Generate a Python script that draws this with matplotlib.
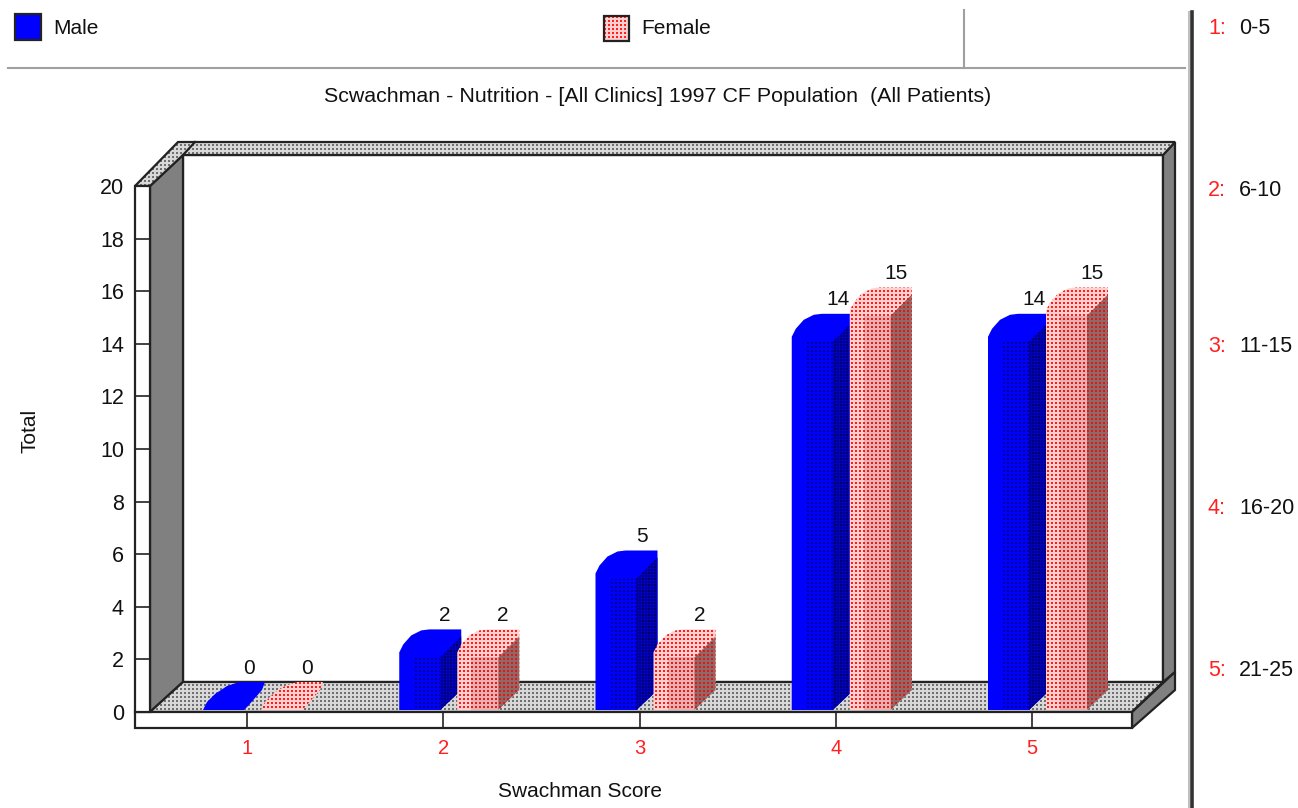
import numpy as np
import matplotlib
matplotlib.use('Agg')
import matplotlib.pyplot as plt
from matplotlib.patches import Polygon

plt.rcParams['font.family'] = ['Liberation Sans', 'DejaVu Sans']

# Data
categories = [1, 2, 3, 4, 5]
male = [0, 2, 5, 14, 14]
female = [0, 2, 2, 15, 15]
y_ticks = list(range(0, 21, 2))
range_nums = ['1:', '2:', '3:', '4:', '5:']
range_labels = ['0-5', '6-10', '11-15', '16-20', '21-25']

W, H = 1298, 808
fig = plt.figure(figsize=(W / 100, H / 100), dpi=100, facecolor='white')

# pixel layer for the surrounding frame
px = fig.add_axes([0, 0, 1, 1])
px.set_xlim(0, W)
px.set_ylim(H, 0)
px.axis('off')

# chart axes: left edge 135, right edge 1132, y=0 at 712, y=20 at 186
L, R, Y0, Y20 = 135, 1132, 712, 186
ax = fig.add_axes([L / W, 1 - Y0 / H, (R - L) / W, (Y0 - Y20) / H])
ax.patch.set_alpha(0)
ux = 196.25
uy = (Y0 - Y20) / 20
ax.set_xlim(1 + (L - 247) / ux, 1 + (R - 247) / ux)
ax.set_ylim(0, 20)


def tile(bg, dot, h=Y0 - Y20, w=R - L, cell=4, size=2):
    # repeat a dot on a background, one image pixel per screen pixel
    img = np.ones((h, w, 3)) * np.array(matplotlib.colors.to_rgb(bg))
    yy, xx = np.mgrid[0:h, 0:w]
    mask = (xx % cell < size) & (yy % cell < size)
    img[mask] = matplotlib.colors.to_rgb(dot)
    return img


def dither(poly, img, z):
    im = ax.imshow(img, extent=[*ax.get_xlim(), 0, 20], aspect='auto',
                   interpolation='nearest', origin='lower', zorder=z)
    im.set_clip_path(Polygon(poly, transform=ax.transData))


def frame_poly(pts, fc, ec='#222222', z=1, lw=1.6):
    px.add_patch(Polygon(pts, closed=True, fc=fc, ec=ec, lw=lw, zorder=z))


grey_px = tile('#d8d8d8', '#707070', h=H, w=W)
red_px = tile('#ffd0d0', '#ff2020', h=H, w=W)


def dither_px(pts, img, z):
    # dithered fill on the frame, outline drawn on top
    im = px.imshow(img, extent=[0, W, H, 0], aspect='auto', interpolation='nearest', zorder=z)
    im.set_clip_path(Polygon(pts, transform=px.transData))
    frame_poly(pts, 'none', z=z + 0.1)
    px.set_xlim(0, W)
    px.set_ylim(H, 0)


# back wall, side walls, floor
frame_poly([(183, 155), (1163, 155), (1163, 682), (183, 682)], 'white')
frame_poly([(150, 186), (183, 155), (183, 682), (150, 712)], '#808080', z=2)
frame_poly([(1163, 155), (1175, 142), (1175, 672), (1163, 682)], '#808080', z=2)
dither_px([(135, 186), (178, 142), (1175, 142), (1163, 155), (183, 155), (150, 186)], grey_px, 2)
px.plot([183, 195], [155, 142], color='#222222', lw=1.6, zorder=3)
dither_px([(150, 712), (183, 682), (1163, 682), (1132, 712)], grey_px, 2)
frame_poly([(1132, 712), (1175, 672), (1175, 690), (1132, 728)], '#808080', z=2)
frame_poly([(135, 712), (1132, 712), (1132, 728), (135, 728)], 'white', z=3)
frame_poly([(135, 186), (150, 186), (150, 712), (135, 712)], 'white', z=3)

# bars
dx = 21 / ux
dy = 28 / uy
bw = 41 / ux
base = 2 / uy

blue_front = tile('#0000ff', '#000090')
blue_side = tile('#0000c8', '#000070', cell=3, size=2)
red_light = tile('#ffd0d0', '#ff1c1c')
red_front = tile('#e8b0b0', '#e81c1c')
red_side = tile('#8c6a6a', '#e81414')


def curve_top(x, v):
    # outline of the whole bar with its rounded top left corner
    t = max(v, 0) + base
    return [(x, base), (x, t + 5 / uy), (x + 4 / ux, t + 13 / uy), (x + 12 / ux, t + 22 / uy),
            (x + 22 / ux, t + dy - 1 / uy), (x + 30 / ux, t + dy), (x + bw + dx, t + dy),
            (x + bw + dx, base + dy - 8 / uy), (x + bw, base), ]


def draw_bar(x, v, z, solid, front, side):
    t = v + base
    outline = curve_top(x, v)
    if v == 0:
        # empty bar: only the lid is left
        outline = [(x, base), (x + 4 / ux, base + 8 / uy), (x + 12 / ux, base + 16 / uy),
                   (x + 24 / ux, base + 24 / uy), (x + 36 / ux, base + dy), (x + bw + dx, base + dy),
                   (x + bw + dx - 3 / ux, base + dy - 8 / uy), (x + bw + 4 / ux, base + 4 / uy), (x + bw, base)]
    if solid is None:
        dither(outline, red_light, z)
    else:
        ax.add_patch(Polygon(outline, closed=True, fc=solid, ec='none', zorder=z))
    if v > 0:
        dither([(x + 14 / ux, base), (x + 14 / ux, t), (x + bw, t), (x + bw, base)], front, z + 0.1)
        dither([(x + bw, base), (x + bw, t), (x + bw + dx, t + dy - 7 / uy),
                (x + bw + dx, base + dy - 8 / uy)], side, z + 0.1)


for i, c in enumerate(categories):
    draw_bar(c - 44 / ux, male[i], 3, '#0000ff', blue_front, blue_side)
    draw_bar(c + 14 / ux, female[i], 4, None, red_front, red_side)
    ax.text(c + 2 / ux, male[i] + 44 / uy, str(male[i]), ha='center', va='center', fontsize=15, color='#111111', zorder=6)
    ax.text(c + 60 / ux, female[i] + 44 / uy, str(female[i]), ha='center', va='center', fontsize=15, color='#111111', zorder=6)

# axes
ax.set_xticks(categories)
ax.set_xticklabels(categories, color='#ff2020', fontsize=14.5)
ax.set_yticks(y_ticks)
ax.tick_params(axis='x', direction='out', length=16 * 0.72, width=1.2, color='#222222', pad=8)
ax.tick_params(axis='y', direction='in', length=15 * 0.72, width=1.2, color='#222222', labelsize=15.5, labelcolor='#111111', pad=8)
for s in ['top', 'right', 'bottom', 'left']:
    ax.spines[s].set_visible(False)
ax.set_xlabel('Swachman Score', fontsize=15, color='#111111')
ax.xaxis.set_label_coords((580 - L) / (R - L), -(782 - Y0) / (Y0 - Y20), transform=ax.transAxes)
ax.set_ylabel('Total', fontsize=15, color='#111111')
ax.yaxis.set_label_coords((39 - L) / (R - L), (Y0 - 431) / (Y0 - Y20))

px.text(658, 97, 'Scwachman - Nutrition - [All Clinics] 1997 CF Population  (All Patients)',
        ha='center', va='center', fontsize=15.4, color='#111111')

# legend strip and divider lines
px.plot([8, 1185], [68, 68], color='#a0a0a0', lw=1.5)
px.plot([964, 964], [10, 68], color='#a0a0a0', lw=1.5)
px.plot([1189, 1189], [12, 808], color='#c0c0c0', lw=1.5)
px.plot([1192, 1192], [12, 808], color='#333333', lw=2.6)
frame_poly([(15, 14), (41, 14), (41, 40), (15, 40)], '#0000ff', z=2)
dither_px([(604, 16), (629, 16), (629, 41), (604, 41)], red_px, 2)
px.text(53, 29, 'Male', va='center', fontsize=15, color='#111111')
px.text(641, 29, 'Female', va='center', fontsize=15, color='#111111')

range_y = [29, 191, 347, 509, 671]
for n, lab, y in zip(range_nums, range_labels, range_y):
    px.text(1208, y, n, va='center', fontsize=15.5, color='#ff2020')
    px.text(1239, y, lab, va='center', fontsize=15.5, color='#111111')

fig.savefig('out.png', dpi=100)
